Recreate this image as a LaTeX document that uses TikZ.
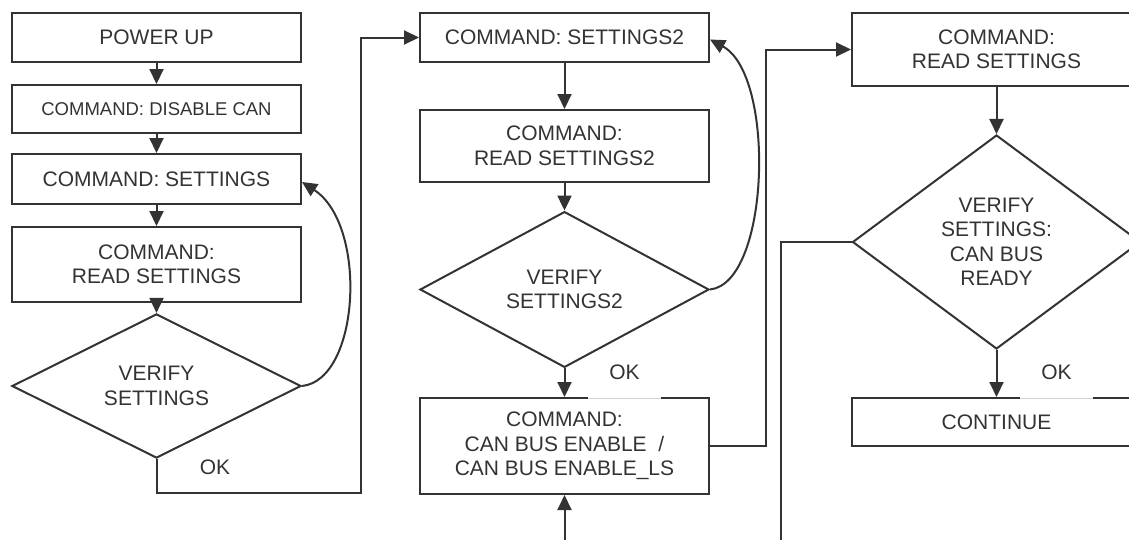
\documentclass[tikz,border=0pt]{standalone}
\usepackage{fontspec}
\setmainfont{Liberation Sans}
\usetikzlibrary{arrows.meta,shapes.geometric}
\definecolor{ink}{HTML}{333333}
\begin{document}
\begin{tikzpicture}[x=1pt,y=-1pt,
  every node/.style={text=ink, font=\fontsize{21}{24.5}\selectfont},
  box/.style={draw=ink, line width=2pt, minimum width=289pt, inner sep=0pt, align=center},
  dia/.style={draw=ink, line width=2pt, diamond, inner sep=0pt, align=center},
  arr/.style={draw=ink, line width=2pt, -{Triangle[length=15pt,width=14pt]}},
  ln/.style={draw=ink, line width=2pt},
  oklab/.style={fill=white, minimum width=73pt, inner sep=0pt, text height=15pt, text depth=18.5pt, anchor=base},
  gapline/.style={draw=gray!35, line width=0.6pt}]
\clip (0,0) rectangle (1129,539);
% left column
\node[box, minimum height=49pt] (pu) at (156.5,37.5) {POWER UP};
\node[box, minimum height=48pt, font=\fontsize{18.5}{22}\selectfont] (dis) at (156.5,109) {COMMAND: DISABLE CAN};
\node[box, minimum height=50pt] (set) at (156.5,179) {COMMAND: SETTINGS};
\node[box, minimum height=75pt] (rd) at (156.5,264.5) {COMMAND:\\READ SETTINGS};
\node[dia, minimum width=289pt, minimum height=118pt] (ver1) at (156.5,386) {VERIFY\\SETTINGS};
% middle column
\node[box, minimum height=49pt] (set2) at (564.5,37.5) {COMMAND: SETTINGS2};
\node[box, minimum height=72pt] (rd2) at (564.5,146) {COMMAND:\\READ SETTINGS2};
\node[dia, minimum width=289pt, minimum height=119pt] (ver2) at (564.5,289.5) {VERIFY\\SETTINGS2};
\node[box, minimum height=96pt] (en) at (564.5,446) {COMMAND:\\CAN BUS ENABLE\ \ /\\CAN BUS ENABLE\_LS};
% right column
\node[box, minimum height=73pt] (rs) at (996.5,49.5) {COMMAND:\\READ SETTINGS};
\node[dia, minimum width=288pt, minimum height=214pt] (ver3) at (996.5,242) {VERIFY\\SETTINGS:\\CAN BUS\\READY};
\node[box, minimum height=48pt] (cont) at (996.5,422) {CONTINUE};
% left connectors
\draw[arr] (pu) -- (dis);
\draw[arr] (dis) -- (set);
\draw[arr] (set) -- (rd);
\draw[arr] (rd) -- (ver1);
\coordinate (c1) at (361,493);
\draw[arr] (ver1.south) |- (c1) |- (set2.west);
\draw[arr] (ver1.east) .. controls (360,380) and (368,225) .. ([yshift=-3pt]set.east);
\node (ok1) at (215,467) {OK};
% middle connectors
\draw[arr] (set2) -- (rd2);
\draw[arr] (rd2) -- (ver2);
\draw[arr] (ver2) -- (en);
\draw[arr] (ver2.east) .. controls (770,283) and (776,75) .. ([yshift=-2pt]set2.east);
\coordinate (b1) at (564.5,545);
\draw[arr] (b1) -- (en);
\coordinate (c2) at (766,49.5);
\draw[arr] (en.east) -| (c2) -- (rs.west);
% right connectors
\draw[arr] (rs) -- (ver3);
\draw[arr] (ver3) -- (cont);
\coordinate (c3) at (781,545);
\draw[ln] (ver3.west) -| (c3);
% OK labels
\node[oklab] (ok2) at (624.5,379.5) {OK};
\draw[gapline] (ok2.south west) -- (ok2.south east);
\node[oklab] (ok3) at (1056.5,379.5) {OK};
\draw[gapline] (ok3.south west) -- (ok3.south east);
\end{tikzpicture}
\end{document}
